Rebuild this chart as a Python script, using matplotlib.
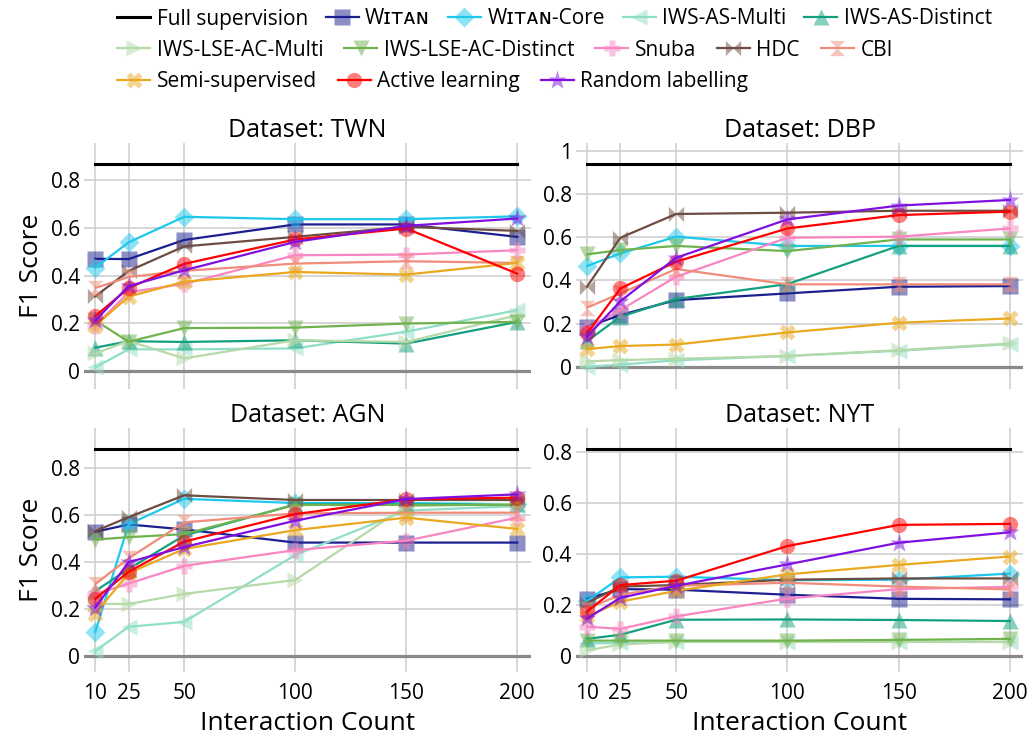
import matplotlib
matplotlib.use('Agg')
import matplotlib.pyplot as plt
import numpy as np
from matplotlib.colors import to_rgba
from matplotlib.path import Path

plt.rcParams['font.family'] = ['Open Sans', 'DejaVu Sans']

counts = [10, 25, 50, 100, 150, 200]
datasets = ['TWN', 'DBP', 'AGN', 'NYT']

full_supervision = {'TWN': 0.866, 'DBP': 0.938, 'AGN': 0.88, 'NYT': 0.812}

witan = {
    'TWN': [0.470, 0.469, 0.549, 0.614, 0.614, 0.562],
    'DBP': [0.185, 0.240, 0.309, 0.340, 0.371, 0.374],
    'AGN': [0.528, 0.559, 0.538, 0.482, 0.482, 0.482],
    'NYT': [0.225, 0.262, 0.260, 0.240, 0.224, 0.222],
}
witan_core = {
    'TWN': [0.433, 0.539, 0.646, 0.636, 0.636, 0.648],
    'DBP': [0.467, 0.525, 0.603, 0.560, 0.560, 0.560],
    'AGN': [0.103, 0.560, 0.668, 0.650, 0.650, 0.645],
    'NYT': [0.215, 0.308, 0.311, 0.297, 0.299, 0.323],
}
iws_as_multi = {
    'TWN': [0.016, 0.091, 0.091, 0.095, 0.165, 0.255],
    'DBP': [0.000, 0.010, 0.030, 0.050, 0.074, 0.105],
    'AGN': [0.021, 0.124, 0.145, 0.429, 0.618, 0.637],
    'NYT': [0.050, 0.050, 0.055, 0.055, 0.055, 0.055],
}
iws_as_distinct = {
    'TWN': [0.098, 0.125, 0.122, 0.129, 0.115, 0.206],
    'DBP': [0.119, 0.232, 0.314, 0.383, 0.560, 0.560],
    'AGN': [0.276, 0.370, 0.512, 0.644, 0.644, 0.644],
    'NYT': [0.067, 0.083, 0.142, 0.143, 0.141, 0.137],
}
iws_lse_ac_multi = {
    'TWN': [0.074, 0.126, 0.053, 0.129, 0.122, 0.234],
    'DBP': [0.025, 0.031, 0.037, 0.050, 0.077, 0.108],
    'AGN': [0.222, 0.221, 0.264, 0.323, 0.637, 0.646],
    'NYT': [0.022, 0.045, 0.055, 0.055, 0.055, 0.055],
}
iws_lse_ac_distinct = {
    'TWN': [0.212, 0.123, 0.180, 0.182, 0.199, 0.206],
    'DBP': [0.521, 0.541, 0.560, 0.536, 0.590, 0.590],
    'AGN': [0.495, 0.505, 0.518, 0.642, 0.642, 0.642],
    'NYT': [0.060, 0.060, 0.060, 0.060, 0.063, 0.067],
}
snuba = {
    'TWN': [0.190, 0.330, 0.365, 0.485, 0.488, 0.506],
    'DBP': [0.178, 0.263, 0.417, 0.598, 0.603, 0.641],
    'AGN': [0.262, 0.308, 0.383, 0.450, 0.490, 0.588],
    'NYT': [0.115, 0.106, 0.155, 0.225, 0.262, 0.271],
}
hdc = {
    'TWN': [0.313, 0.419, 0.522, 0.562, 0.604, 0.587],
    'DBP': [0.371, 0.598, 0.708, 0.714, 0.723, 0.723],
    'AGN': [0.531, 0.590, 0.683, 0.663, 0.663, 0.663],
    'NYT': [0.208, 0.272, 0.278, 0.299, 0.304, 0.304],
}
cbi = {
    'TWN': [0.348, 0.394, 0.420, 0.450, 0.460, 0.453],
    'DBP': [0.274, 0.340, 0.453, 0.382, 0.382, 0.382],
    'AGN': [0.305, 0.415, 0.568, 0.606, 0.609, 0.609],
    'NYT': [0.185, 0.240, 0.275, 0.287, 0.272, 0.261],
}
semi_supervised = {
    'TWN': [0.190, 0.312, 0.374, 0.415, 0.404, 0.453],
    'DBP': [0.082, 0.096, 0.103, 0.159, 0.204, 0.224],
    'AGN': [0.180, 0.352, 0.455, 0.535, 0.588, 0.540],
    'NYT': [0.155, 0.213, 0.255, 0.320, 0.357, 0.390],
}
active_learning = {
    'TWN': [0.230, 0.348, 0.449, 0.551, 0.597, 0.408],
    'DBP': [0.155, 0.363, 0.487, 0.641, 0.703, 0.719],
    'AGN': [0.243, 0.358, 0.486, 0.603, 0.666, 0.673],
    'NYT': [0.174, 0.278, 0.295, 0.431, 0.514, 0.518],
}
random_labelling = {
    'TWN': [0.212, 0.356, 0.422, 0.541, 0.608, 0.639],
    'DBP': [0.139, 0.304, 0.505, 0.683, 0.747, 0.773],
    'AGN': [0.206, 0.399, 0.463, 0.575, 0.667, 0.687],
    'NYT': [0.147, 0.228, 0.275, 0.359, 0.444, 0.485],
}

# plotly-like bowtie / hourglass markers
bowtie = Path([(-1, 1), (-1, -1), (0, 0), (1, -1), (1, 1), (0, 0), (-1, 1)])
hourglass = Path([(-1, 1), (1, 1), (0, 0), (1, -1), (-1, -1), (0, 0), (-1, 1)])

methods = [
    ('Wɪᴛᴀɴ', witan, '#1b1f8f', 's', 11),
    ('Wɪᴛᴀɴ-Core', witan_core, '#1ec8ec', 'D', 10),
    ('IWS-AS-Multi', iws_as_multi, '#8fdec8', '<', 11),
    ('IWS-AS-Distinct', iws_as_distinct, '#13a07e', '^', 11),
    ('IWS-LSE-AC-Multi', iws_lse_ac_multi, '#b6d9a8', '>', 11),
    ('IWS-LSE-AC-Distinct', iws_lse_ac_distinct, '#70b34e', 'v', 11),
    ('Snuba', snuba, '#f986c2', 'P', 11),
    ('HDC', hdc, '#6d4c41', bowtie, 11),
    ('CBI', cbi, '#f08c7a', hourglass, 11),
    ('Semi-supervised', semi_supervised, '#e9a81e', 'X', 11),
    ('Active learning', active_learning, '#ff0000', 'o', 11),
    ('Random labelling', random_labelling, '#7f10e0', '*', 14),
]

W, H = 1033, 740
fig = plt.figure(figsize=(W / 100, H / 100), dpi=100)

col_x = [(84.2, 446.4), (575.9, 447.4)]
row_y = [(143, 389), (428, 672)]
ylims = {'TWN': (-0.075, 0.955), 'DBP': (-0.103, 1.037),
         'AGN': (-0.068, 0.969), 'NYT': (-0.063, 0.894)}
yticks = {'TWN': [0, 0.2, 0.4, 0.6, 0.8], 'DBP': [0, 0.2, 0.4, 0.6, 0.8, 1],
          'AGN': [0, 0.2, 0.4, 0.6, 0.8], 'NYT': [0, 0.2, 0.4, 0.6, 0.8]}

handles = {}
for i, ds in enumerate(datasets):
    r, c = divmod(i, 2)
    x0, w = col_x[c]
    top, bot = row_y[r]
    ax = fig.add_axes([x0 / W, 1 - bot / H, w / W, (bot - top) / H])
    for s in ax.spines.values():
        s.set_visible(False)
    ax.set_xlim(5, 206)
    ax.set_ylim(*ylims[ds])
    ax.set_xticks(counts)
    ax.set_yticks(yticks[ds])
    ax.set_yticklabels(['%g' % v for v in yticks[ds]])
    ax.grid(True, color='#cfcfcf', lw=1.2, zorder=0)
    ax.set_axisbelow(True)
    ax.axhline(0, color='#8a8a8a', lw=2.3, zorder=1)
    ax.tick_params(length=0, labelsize=15, pad=3)
    if r == 0:
        ax.tick_params(labelbottom=False)
    else:
        ax.tick_params(axis='x', pad=8)
        ax.set_xlabel('Interaction Count', fontsize=19)
        ax.xaxis.set_label_coords(0.5, -0.16)
    if c == 0:
        ax.set_ylabel('F1 Score', fontsize=19)
        ax.yaxis.set_label_coords(-0.09, 0.5)
    ax.set_title('Dataset: ' + ds, fontsize=18, pad=3)

    h, = ax.plot([10, 200], [full_supervision[ds]] * 2, color='black', lw=2.2, zorder=3)
    handles['Full supervision'] = h
    for k, (name, data, col, mk, ms) in enumerate(methods):
        h, = ax.plot(counts, data[ds], color=col, lw=1.6, marker=mk, ms=ms,
                     mfc=to_rgba(col, 0.5), mec='none', zorder=4 + k, clip_on=False)
        handles[name] = h

rows = [
    ['Full supervision', 'Wɪᴛᴀɴ', 'Wɪᴛᴀɴ-Core', 'IWS-AS-Multi', 'IWS-AS-Distinct'],
    ['IWS-LSE-AC-Multi', 'IWS-LSE-AC-Distinct', 'Snuba', 'HDC', 'CBI'],
    ['Semi-supervised', 'Active learning', 'Random labelling'],
]
for ry, names, cs in zip([19, 50, 82], rows, [0.85, 1.0, 1.0]):
    fig.legend([handles[n] for n in names], names, ncol=len(names),
               loc='center left', bbox_to_anchor=(117 / W, 1 - ry / H),
               frameon=False, fontsize=15, handlelength=1.6, handletextpad=0.3,
               columnspacing=cs, borderpad=0, borderaxespad=0)

fig.savefig('out.png', dpi=100)
